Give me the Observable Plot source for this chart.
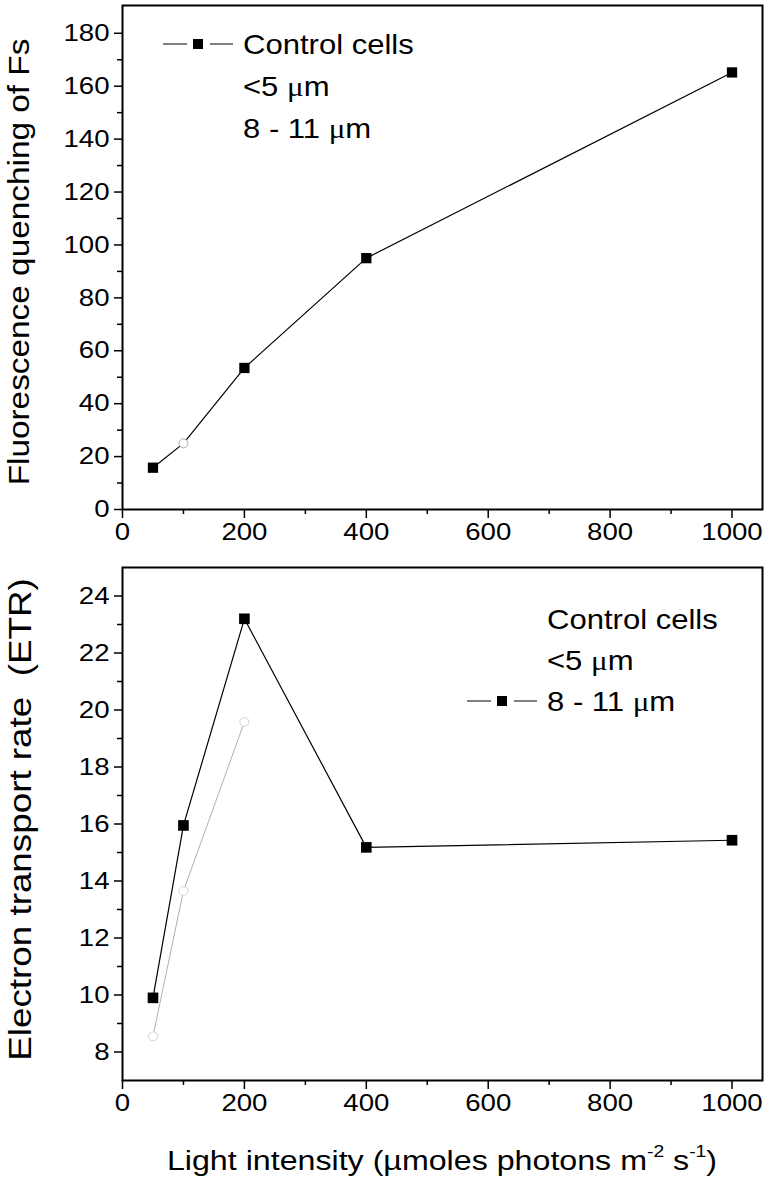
<!DOCTYPE html>
<html><head><meta charset="utf-8">
<script src="https://cdn.jsdelivr.net/npm/d3@7"></script>
<script src="https://cdn.jsdelivr.net/npm/@observablehq/plot@0.6"></script>
<style>
body{margin:0;background:#fff;}
#chart{width:767px;}
#chart svg{display:block;}
</style></head><body><div id="chart"></div>
<script>
// ---- data ----
const lightX = [50, 100, 200, 400, 1000];
const fsControl = [15.8, 25.0, 53.5, 95.0, 165.2];
const fsSmallX = [100];
const fsSmall = [25.0];
const etrLarge = [9.9, 15.95, 23.2, 15.18, 15.43];
const etrSmallX = [50, 100, 200];
const etrSmall = [8.55, 13.65, 19.58];
const xTicks = [0, 200, 400, 600, 800, 1000];
const xMinor = [100, 300, 500, 700, 900];
const fsTicks = [0, 20, 40, 60, 80, 100, 120, 140, 160, 180];
const fsMinor = [10, 30, 50, 70, 90, 110, 130, 150, 170];
const etrTicks = [8, 10, 12, 14, 16, 18, 20, 22, 24];
const etrMinor = [9, 11, 13, 15, 17, 19, 21, 23];
const legendLabels = [["Control cells"], ["<5 ", "\u03bc", "m"], ["8 - 11 ", "\u03bc", "m"]];
const fsTitle = "Fluorescence quenching of Fs";
const etrTitle = "Electron transport rate  (ETR)";
const xTitleParts = ["Light intensity (\u00b5moles photons m", "-2", " s", "-1", ")"];

const FONT = "Liberation Sans, Arial, sans-serif";
const SERIF = "Liberation Serif, Times New Roman, serif";
const TICK_FS = 24, LEG_FS = 27, XTITLE_FS = 28, STRETCH = 1.15;

const fsData = lightX.map((x, i) => ({x, y: fsControl[i]}));
const fsSmallData = fsSmallX.map((x, i) => ({x, y: fsSmall[i]}));
const etrData = lightX.map((x, i) => ({x, y: etrLarge[i]}));
const etrSmallData = etrSmallX.map((x, i) => ({x, y: etrSmall[i]}));

function legend(x0, y0, rowGap, markerRow) {
  return (index, scales, values, dims) => {
    const g = d3.create("svg:g").attr("font-family", FONT).attr("font-size", LEG_FS).attr("fill", "black");
    legendLabels.forEach((parts, i) => {
      const t = g.append("text").attr("text-anchor", "start").attr("style", "white-space:pre")
        .attr("transform", `translate(${x0},${y0 + i * rowGap})`).attr("dy", "0.36em");
      parts.forEach((p, j) => {
        const s = t.append("tspan").text(p);
        if (j === 1) s.attr("font-family", SERIF);
      });
    });
    const ly = y0 + markerRow * rowGap;
    g.append("line").attr("x1", x0 - 80).attr("x2", x0 - 56).attr("y1", ly).attr("y2", ly).attr("stroke", "black").attr("stroke-width", 1);
    g.append("line").attr("x1", x0 - 33).attr("x2", x0 - 10).attr("y1", ly).attr("y2", ly).attr("stroke", "black").attr("stroke-width", 1);
    g.append("rect").attr("x", x0 - 50).attr("y", ly - 5).attr("width", 10).attr("height", 10).attr("fill", "black");
    return g.node();
  };
}

function yTitle(label, cx, fs, shift) {
  return (index, scales, values, dims) => {
    const cy = (dims.marginTop + dims.height - dims.marginBottom) / 2 + shift;
    const g = d3.create("svg:g").attr("font-family", FONT).attr("font-size", fs).attr("fill", "black");
    g.append("text").attr("text-anchor", "middle").attr("dy", "0.36em").attr("style", "white-space:pre")
      .attr("transform", `translate(${cx},${cy}) rotate(-90)`).text(label);
    return g.node();
  };
}

function xTitle(dyOff) {
  return (index, scales, values, dims) => {
    const cx = (dims.marginLeft + dims.width - dims.marginRight) / 2;
    const cy = dims.height - dims.marginBottom + dyOff;
    const g = d3.create("svg:g").attr("font-family", FONT).attr("font-size", XTITLE_FS).attr("fill", "black");
    const t = g.append("text").attr("text-anchor", "middle").attr("dy", "0.36em")
      .attr("transform", `translate(${cx},${cy})`);
    xTitleParts.forEach((p, i) => {
      const sup = i % 2 === 1;
      t.append("tspan").attr("font-size", sup ? XTITLE_FS * 0.6 : XTITLE_FS)
        .attr("dy", sup ? "-0.75em" : (i > 0 ? "0.45em" : null)).text(p);
    });
    return g.node();
  };
}

function axes(yTicks, yMinor) {
  return [
    Plot.axisX({ticks: xTicks, tickSize: 9, tickPadding: 4, tickFormat: d => String(d), fontSize: TICK_FS, strokeWidth: 1.5, label: null}),
    Plot.axisX({ticks: xMinor, tickSize: 5, tickFormat: () => "", strokeWidth: 1.5, label: null}),
    Plot.axisY({ticks: yTicks, tickSize: 8, tickPadding: 5, tickFormat: d => String(d), fontSize: TICK_FS, strokeWidth: 1.5, label: null}),
    Plot.axisY({ticks: yMinor, tickSize: 5, tickFormat: () => "", strokeWidth: 1.5, label: null}),
    Plot.frame({stroke: "black", strokeWidth: 2})
  ];
}

const topPlot = Plot.plot({
  width: 767, height: 560,
  marginLeft: 122, marginRight: 5, marginTop: 5, marginBottom: 51,
  style: {fontFamily: FONT, color: "black", background: "white"},
  x: {domain: [0, 1050]},
  y: {domain: [0, 190.5]},
  marks: [
    Plot.line(fsData, {x: "x", y: "y", stroke: "black", strokeWidth: 1.2}),
    Plot.dot(fsData.filter(d => !fsSmallX.includes(d.x)), {x: "x", y: "y", symbol: "square", r: 5.8, fill: "black"}),
    Plot.dot(fsSmallData, {x: "x", y: "y", symbol: "circle", r: 4.5, fill: "white", stroke: "#999", strokeWidth: 0.8}),
    ...axes(fsTicks, fsMinor),
    yTitle(fsTitle, 19, 29, 5),
    legend(243, 44, 42, 0)
  ]
});

const bottomPlot = Plot.plot({
  width: 767, height: 627,
  marginLeft: 122, marginRight: 5, marginTop: 7, marginBottom: 107,
  style: {fontFamily: FONT, color: "black", background: "white"},
  x: {domain: [0, 1050]},
  y: {domain: [7, 25]},
  marks: [
    Plot.line(etrSmallData, {x: "x", y: "y", stroke: "#b0b0b0", strokeWidth: 1}),
    Plot.dot(etrSmallData, {x: "x", y: "y", symbol: "circle", r: 4.5, fill: "white", stroke: "#c8c8c8", strokeWidth: 0.8}),
    Plot.line(etrData, {x: "x", y: "y", stroke: "black", strokeWidth: 1.2}),
    Plot.dot(etrData, {x: "x", y: "y", symbol: "square", r: 6, fill: "black"}),
    ...axes(etrTicks, etrMinor),
    yTitle(etrTitle, 19, 32, -4),
    xTitle(80),
    legend(547, 59, 41, 2)
  ]
});

function stretch(svg, s) {
  svg.querySelectorAll("text").forEach(t => {
    const tr = t.getAttribute("transform");
    if (tr) t.setAttribute("transform", tr + ` scale(${s},1)`);
    else {
      const x = +(t.getAttribute("x") || 0);
      t.setAttribute("transform", `translate(${x},0) scale(${s},1) translate(${-x},0)`);
    }
  });
}
stretch(topPlot, STRETCH);
stretch(bottomPlot, STRETCH);

document.getElementById("chart").append(topPlot, bottomPlot);
</script></body></html>
